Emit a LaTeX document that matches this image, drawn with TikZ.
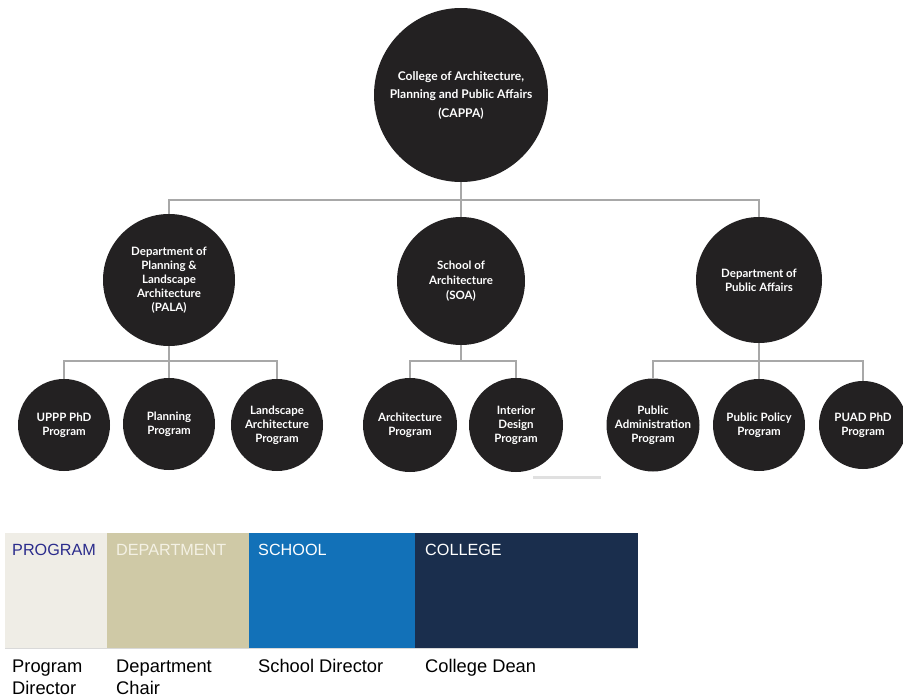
\documentclass[tikz,border=0pt]{standalone}
\usepackage{fontspec}
\setmainfont{Liberation Sans}
\newfontfamily\circfont{Lato}
\definecolor{circ}{HTML}{232122}
\definecolor{conncol}{HTML}{A8A8A8}
\definecolor{progbg}{HTML}{EFEDE6}
\definecolor{deptbg}{HTML}{CFC9A6}
\definecolor{schoolbg}{HTML}{1271B8}
\definecolor{collegebg}{HTML}{1A2E4D}
\definecolor{progtxt}{HTML}{2B2C8C}
\definecolor{depttxt}{HTML}{F4F1E4}
\tikzset{
  orgcirc/.style={circle, fill=circ, text=white, inner sep=0pt, align=center,
    font=\circfont\bfseries\fontsize{11.5}{14}\selectfont},
  conn/.style={draw=conncol, line width=1.3pt},
  hdr/.style={anchor=base west, inner sep=0pt, font=\fontsize{16.2}{18}\selectfont},
  captxt/.style={anchor=base west, inner sep=0pt, align=left, font=\fontsize{18.3}{22}\selectfont, text=black}
}
\begin{document}
\begin{tikzpicture}[x=1pt,y=-1pt]
\useasboundingbox (0,0) rectangle (903,698);
\fill[white] (0,0) rectangle (903,698);

% levels
\node[orgcirc, minimum size=174pt, font=\circfont\bfseries\fontsize{12}{18.5}\selectfont] (cappa) at (461,95) {College of Architecture,\\Planning and Public Affairs\\(CAPPA)};
\node[orgcirc, minimum size=132pt] (pala) at (169,280) {Department of\\Planning \&\\Landscape\\Architecture\\(PALA)};
\node[orgcirc, minimum size=128pt, font=\circfont\bfseries\fontsize{11.5}{15}\selectfont] (soa) at (461,281) {School of\\Architecture\\(SOA)};
\node[orgcirc, minimum size=126pt] (pa) at (759,280) {Department of\\Public Affairs};

\node[orgcirc, minimum size=92pt] (uppp) at (64,425) {UPPP PhD\\Program};
\node[orgcirc, minimum size=92pt] (plan) at (169,424) {Planning\\Program};
\node[orgcirc, minimum size=92pt] (land) at (277,425) {Landscape\\Architecture\\Program};
\node[orgcirc, minimum size=94pt] (arch) at (410,425) {Architecture\\Program};
\node[orgcirc, minimum size=94pt] (inter) at (516,425) {Interior\\Design\\Program};
\node[orgcirc, minimum size=93pt] (padm) at (653,425) {Public\\Administration\\Program};
\node[orgcirc, minimum size=92pt] (ppol) at (759,425) {Public Policy\\Program};
\node[orgcirc, minimum size=88pt] (puad) at (863,425) {PUAD PhD\\Program};

\coordinate (h1) at (461,200);
\coordinate (h2) at (0,361);

% connectors
\draw[conn] (cappa.south) -- (soa.north);
\draw[conn] (pala.north) -- (pala.north |- h1) -- (pa.north |- h1) -- (pa.north);

\draw[conn] (pala.south) -- (plan.north);
\draw[conn] (uppp.north) -- (uppp.north |- h2) -- (land.north |- h2) -- (land.north);

\draw[conn] (soa.south) -- (soa.south |- h2);
\draw[conn] (arch.north) -- (arch.north |- h2) -- (inter.north |- h2) -- (inter.north);

\draw[conn] (pa.south) -- (ppol.north);
\draw[conn] (padm.north) -- (padm.north |- h2) -- (puad.north |- h2) -- (puad.north);

% small gray bar
\draw[draw=black!12, line width=3pt] (533,477) -- (601,477);

% legend
\fill[progbg] (5,533) rectangle (107,648);
\fill[deptbg] (107,533) rectangle (249,648);
\fill[schoolbg] (249,533) rectangle (415,648);
\fill[collegebg] (415,533) rectangle (638,648);
\draw[draw=black!15, line width=1pt] (5,648.5) -- (638,648.5);

\node[hdr, text=progtxt] (hprog) at (12,555) {PROGRAM};
\node[hdr, text=depttxt] (hdept) at (116,555) {DEPARTMENT};
\node[hdr, text=white] (hsch) at (258,555) {SCHOOL};
\node[hdr, text=white] (hcol) at (425,555) {COLLEGE};

\node[captxt] (cprog) at (12,694) {Program\\Director};
\node[captxt] (cdept) at (116,694) {Department\\Chair};
\node[captxt] (csch) at (258,672) {School Director};
\node[captxt] (ccol) at (425,672) {College Dean};
\end{tikzpicture}
\end{document}
